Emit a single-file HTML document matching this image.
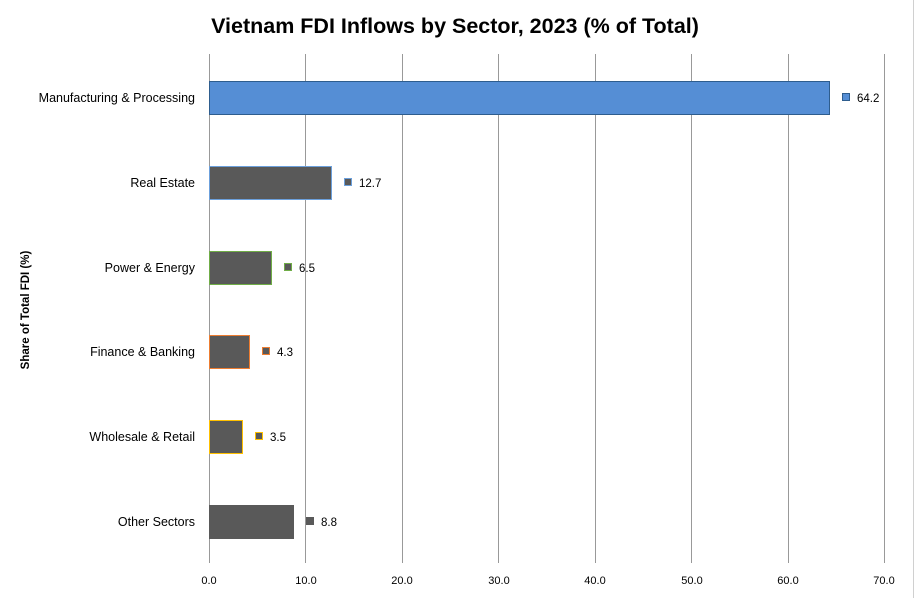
<!DOCTYPE html>
<html><head><meta charset="utf-8"><style>
body{margin:0;background:#fff;}
svg{display:block;font-family:"Liberation Sans",sans-serif;}
</style></head><body>
<svg width="915" height="598" viewBox="0 0 915 598">
<rect width="915" height="598" fill="#fff"/>
<line x1="913.5" y1="0" x2="913.5" y2="598" stroke="#d0d0d0"/>
<text x="455" y="33" text-anchor="middle" font-size="21.5" font-weight="bold" fill="#000">Vietnam FDI Inflows by Sector, 2023 (% of Total)</text>
<g stroke="#999" stroke-width="1">
<line x1="209.5" y1="54" x2="209.5" y2="563"/>
<line x1="305.5" y1="54" x2="305.5" y2="563"/>
<line x1="402.5" y1="54" x2="402.5" y2="563"/>
<line x1="498.5" y1="54" x2="498.5" y2="563"/>
<line x1="595.5" y1="54" x2="595.5" y2="563"/>
<line x1="691.5" y1="54" x2="691.5" y2="563"/>
<line x1="788.5" y1="54" x2="788.5" y2="563"/>
<line x1="884.5" y1="54" x2="884.5" y2="563"/>
</g>
<g font-size="11" fill="#000" text-anchor="middle">
<text x="209" y="584">0.0</text><text x="306" y="584">10.0</text><text x="402" y="584">20.0</text><text x="499" y="584">30.0</text><text x="595" y="584">40.0</text><text x="692" y="584">50.0</text><text x="788" y="584">60.0</text><text x="884" y="584">70.0</text>
</g>
<g font-size="12.5" fill="#000" text-anchor="end">
<text x="195" y="102">Manufacturing &amp; Processing</text>
<text x="195" y="187">Real Estate</text>
<text x="195" y="272">Power &amp; Energy</text>
<text x="195" y="356">Finance &amp; Banking</text>
<text x="195" y="441">Wholesale &amp; Retail</text>
<text x="195" y="526">Other Sectors</text>
</g>
<text transform="translate(29,310) rotate(-90)" text-anchor="middle" font-size="11.5" font-weight="bold">Share of Total FDI (%)</text>
<rect x="209.5" y="81.5" width="620" height="33" fill="#558ed5" stroke="#2e5d8e"/>
<rect x="209.5" y="166.5" width="122" height="33" fill="#595959" stroke="#6ca0dc"/>
<rect x="209.5" y="251.5" width="62" height="33" fill="#595959" stroke="#70ad47"/>
<rect x="209.5" y="335.5" width="40" height="33" fill="#595959" stroke="#ed7d31"/>
<rect x="209.5" y="420.5" width="33" height="33" fill="#595959" stroke="#ffc000"/>
<rect x="209.5" y="505.5" width="84" height="33" fill="#595959" stroke="#595959"/>
<rect x="842.5" y="93.5" width="7" height="7" fill="#558ed5" stroke="#2e5d8e"/>
<rect x="344.5" y="178.5" width="7" height="7" fill="#595959" stroke="#6ca0dc"/>
<rect x="284.5" y="263.5" width="7" height="7" fill="#595959" stroke="#70ad47"/>
<rect x="262.5" y="347.5" width="7" height="7" fill="#595959" stroke="#ed7d31"/>
<rect x="255.5" y="432.5" width="7" height="7" fill="#595959" stroke="#ffc000"/>
<rect x="306.5" y="517.5" width="7" height="7" fill="#595959" stroke="#595959"/>
<g font-size="11.5" fill="#000">
<text x="857" y="102">64.2</text>
<text x="359" y="187">12.7</text>
<text x="299" y="272">6.5</text>
<text x="277" y="356">4.3</text>
<text x="270" y="441">3.5</text>
<text x="321" y="526">8.8</text>
</g>
</svg>
</body></html>
